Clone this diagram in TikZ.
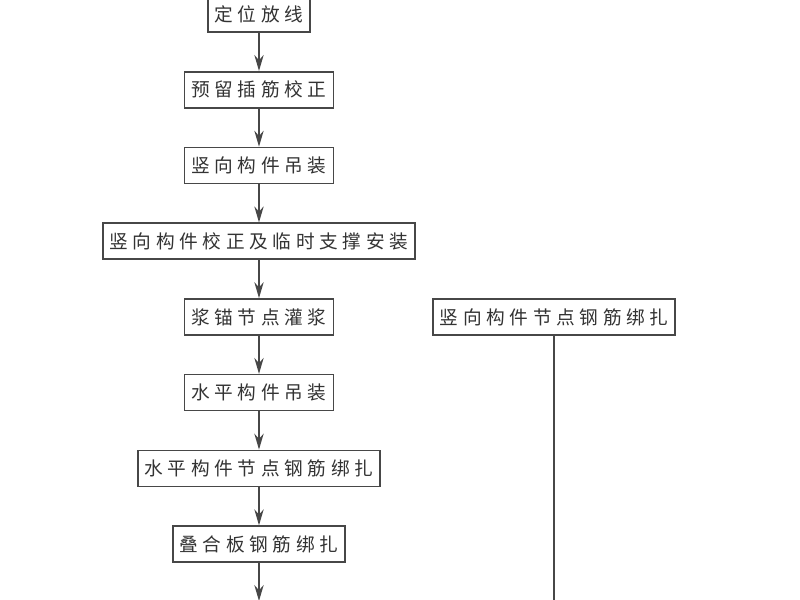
\documentclass[tikz,border=0pt]{standalone}
\usepackage{fontspec}
\newfontfamily\cjk[LetterSpace=25]{Noto Sans CJK SC}
\usepackage{tikz}
\usetikzlibrary{matrix,positioning,arrows.meta}

\definecolor{scanline}{gray}{0.28}
\definecolor{scantext}{gray}{0.2}

\begin{document}
\begin{tikzpicture}[x=0.75pt, y=-0.75pt,
    flow/.style={draw=scanline, line width=1.2pt, ->, >={Stealth[length=12pt, width=7pt, inset=4pt]}},
    link/.style={draw=scanline, line width=1.2pt}]
     \useasboundingbox[fill=white] (0,0) rectangle (800,600);
     \matrix (M) [matrix of nodes, matrix anchor=M-1-1.center,
        nodes={draw=scanline, line width=1.2pt, minimum height=27pt, inner xsep=5pt,
               text=scantext, font=\cjk\fontsize{14pt}{16pt}\selectfont, anchor=center},
        row sep=28.6pt,
        column sep=12.5pt
      ] at (259,14)
      {
        定位放线 \\
        预留插筋校正 \\
        竖向构件吊装 \\
        竖向构件校正及临时支撑安装 \\
        浆锚节点灌浆 & 竖向构件节点钢筋绑扎 \\
        水平构件吊装 \\
        水平构件节点钢筋绑扎 \\
        叠合板钢筋绑扎 \\
      };
     % main chain
     \foreach \i [evaluate=\i as \j using int(\i+1)] in {1,...,7}
        \draw[flow] (M-\i-1) -- (M-\j-1);
     \coordinate (M-out) at (M-8-1.south |- 0,601);
     \draw[flow] (M-8-1) -- (M-out);
     % side branch
     \coordinate (R-out) at (M-5-2.south |- 0,601);
     \draw[link] (M-5-2) -- (R-out);
  \end{tikzpicture}
\end{document}
